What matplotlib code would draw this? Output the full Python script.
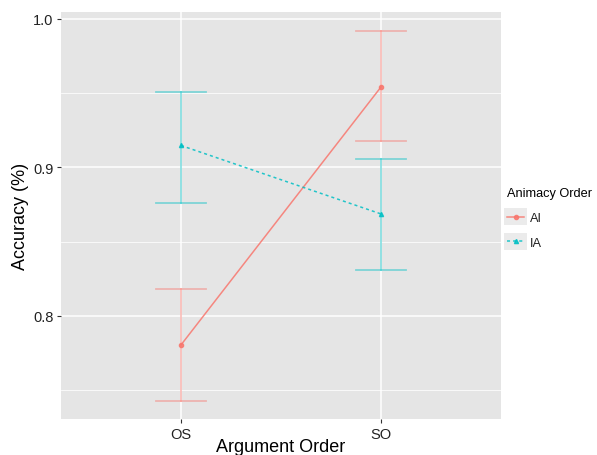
import matplotlib.pyplot as plt
import numpy as np
from matplotlib.patches import Rectangle

plt.rcParams['font.family'] = ['Liberation Sans', 'DejaVu Sans']

# data
categories = ['OS', 'SO']
groups = ['AI', 'IA']
means = {'AI': [0.7805, 0.9542], 'IA': [0.9148, 0.8687]}
upper = {'AI': [0.8180, 0.9920], 'IA': [0.9510, 0.9060]}
lower = {'AI': [0.7428, 0.9175], 'IA': [0.8764, 0.8310]}

colors = {'AI': '#F8766D', 'IA': '#00BFC4'}
markers = {'AI': 'o', 'IA': '^'}
styles = {'AI': '-', 'IA': (0, (2, 2))}

fig = plt.figure(figsize=(5.97, 4.56), dpi=100)
ax = fig.add_axes([61 / 597, 36 / 456, 440 / 597, 407 / 456])
ax.set_facecolor('#E5E5E5')

x = np.arange(1, len(categories) + 1)
handles = []
for g in groups:
    c = colors[g]
    for xi, lo, hi in zip(x, lower[g], upper[g]):
        ax.plot([xi, xi], [lo, hi], color=c, alpha=0.45, lw=1.3, zorder=3)
        ax.plot([xi - 0.125, xi + 0.125], [lo, lo], color=c, alpha=0.45, lw=1.3, zorder=3)
        ax.plot([xi - 0.125, xi + 0.125], [hi, hi], color=c, alpha=0.45, lw=1.3, zorder=3)
    h, = ax.plot(x, means[g], color=c, linestyle=styles[g], lw=1.1, alpha=0.85,
                 marker=markers[g], ms=3, zorder=4, label=g)
    handles.append(h)

ax.set_xlim(0.4, 2.6)
ax.set_ylim(0.7306, 1.0047)
ax.set_xticks(x)
ax.set_xticklabels(categories)
ax.set_yticks([0.8, 0.9, 1.0])
ax.set_yticklabels(['0.8', '0.9', '1.0'])
ax.set_yticks([0.75, 0.85, 0.95], minor=True)
ax.set_xticks([], minor=True)
ax.grid(True, which='major', color='white', lw=1.1)
ax.grid(True, which='minor', axis='y', color='white', lw=0.55)
ax.set_axisbelow(True)
for s in ax.spines.values():
    s.set_visible(False)
ax.tick_params(axis='both', which='major', length=3, color='#333333',
               labelsize=10.5, labelcolor='#222222', pad=2.5)
ax.tick_params(axis='both', which='minor', length=0)

ax.set_xlabel('Argument Order', fontsize=13, labelpad=-2)
ax.set_ylabel('Accuracy (%)', fontsize=13, labelpad=3)

leg = fig.legend(handles=handles, labels=groups, title='Animacy Order',
                 loc='upper left', bbox_to_anchor=(506 / 597, 1 - 187 / 456),
                 frameon=False, fontsize=9.2, title_fontsize=9.2,
                 handlelength=1.3, handletextpad=0.5, labelspacing=1.0,
                 borderpad=0.1, borderaxespad=0)
leg._legend_box.align = 'left'
for t in leg.get_texts():
    t.set_color('#222222')

fig.canvas.draw()
for h in leg.legend_handles:
    bb = h.get_window_extent(fig.canvas.get_renderer())
    cy = (bb.y0 + bb.y1) / 2
    fig.patches.append(Rectangle(((bb.x0 - 1) / fig.bbox.width, (cy - 8.5) / fig.bbox.height),
                                 (bb.width + 2) / fig.bbox.width, 17 / fig.bbox.height,
                                 transform=fig.transFigure, facecolor='#EBEBEB',
                                 edgecolor='none', zorder=0))

fig.savefig('out.png', dpi=100)
